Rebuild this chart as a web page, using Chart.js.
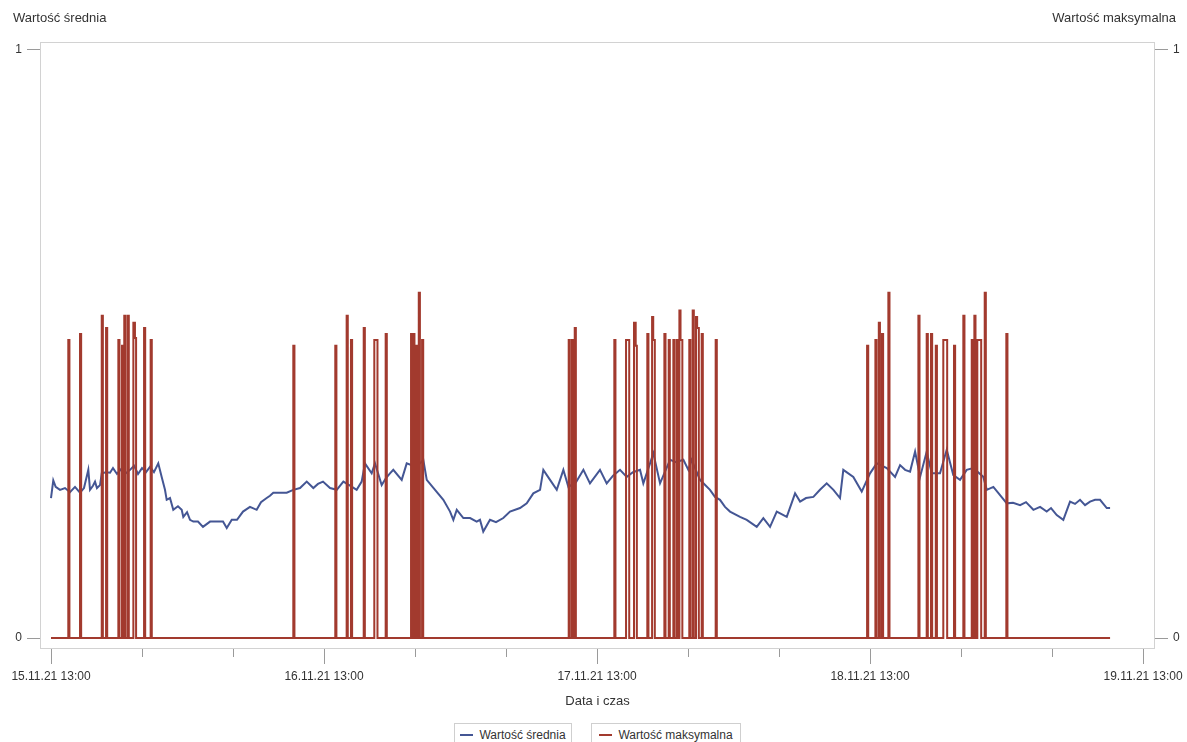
<!DOCTYPE html>
<html lang="pl">
<head>
<meta charset="utf-8">
<title>Wartość średnia / maksymalna</title>
<script src="https://cdn.jsdelivr.net/npm/chart.js@4.4.1/dist/chart.umd.min.js"></script>
<style>
    body { margin: 0; background: #fff; font-family: "Liberation Sans", Arial, sans-serif; color: #333; }
    #wrap { position: relative; width: 1187px; height: 742px; overflow: hidden; }
    #chart { position: absolute; left: 0; top: 0; }
    .axis-name { position: absolute; top: 10px; font-size: 13px; white-space: nowrap; }
    .leg {
        position: absolute; top: 723px; height: 24px; box-sizing: border-box;
        border: 1px solid #cfcfcf; background: #fff; font-size: 12px; line-height: 20px;
        display: flex; align-items: center; justify-content: center; white-space: nowrap;
    }
    .leg i { display: inline-block; width: 13px; height: 2px; margin-right: 6px; }
</style>
</head>
<body>
<div id="wrap">
    <canvas id="chart" width="1187" height="742"></canvas>
    <div class="axis-name" style="left:13px">Wartość średnia</div>
    <div class="axis-name" style="right:11px">Wartość maksymalna</div>
    <div class="leg" style="left:454px;width:118px"><i style="background:#445694"></i>Wartość średnia</div>
    <div class="leg" style="left:591px;width:150px"><i style="background:#A23A2E"></i>Wartość maksymalna</div>
</div>
<script>
// hours counted from 15.11.21 13:00
const dayTickHours = [0, 24, 48, 72, 96];
const dayTickLabels = ['15.11.21 13:00', '16.11.21 13:00', '17.11.21 13:00', '18.11.21 13:00', '19.11.21 13:00'];
const minorTickHours = [8, 16, 32, 40, 56, 64, 80, 88];
const yTickValues = [0, 1];

// Wartość średnia (left axis)
const avgHours = [
    0, 0.2, 0.41, 0.79, 1.23, 1.67, 2.11, 2.55, 2.9, 3.28, 3.43, 3.69, 3.87, 4.04, 4.31, 4.46,
    4.84, 5.19, 5.45, 5.8, 6.15, 6.51, 6.95, 7.3, 7.65, 8.0, 8.35, 8.7, 9.05, 9.43, 9.73, 10.02,
    10.17, 10.46, 10.75, 11.16, 11.49, 11.63, 11.96, 12.22, 12.51, 12.92, 13.36, 13.98, 14.59, 15.12, 15.45, 15.89,
    16.35, 16.88, 17.49, 18.08, 18.46, 18.96, 19.25, 19.54, 20.13, 20.72, 21.3, 21.89, 22.48, 23.06, 23.47, 23.91,
    24.53, 25.12, 25.7, 26.29, 26.87, 27.31, 27.6, 28.19, 28.48, 29.07, 29.45, 29.8, 30.09, 30.83, 31.27, 31.82,
    32.44, 32.73, 33.03, 33.76, 34.49, 35.08, 35.37, 35.67, 36.25, 36.84, 37.42, 37.71, 38.0, 38.59, 39.12, 39.76,
    40.35, 41.23, 41.82, 42.4, 42.99, 43.28, 43.87, 44.46, 45.04, 45.48, 46.15, 46.8, 47.38, 48.26, 48.85, 49.41,
    50.02, 50.61, 51.16, 51.78, 52.07, 52.66, 52.95, 53.54, 54.42, 54.95, 55.59, 56.03, 56.32, 57.05, 57.93, 58.37,
    58.81, 59.25, 59.69, 60.57, 61.16, 62.04, 62.62, 63.21, 63.8, 64.68, 65.41, 65.85, 66.37, 67.02, 67.6, 68.19,
    68.78, 69.36, 69.65, 70.53, 71.27, 72.0, 72.59, 73.47, 74.2, 74.64, 75.08, 75.52, 75.96, 76.4, 76.98, 77.42,
    78.15, 78.74, 79.32, 79.91, 80.5, 81.08, 81.96, 82.26, 82.84, 83.43, 84.02, 84.57, 85.19, 85.71, 86.36, 86.95,
    87.53, 87.91, 88.41, 88.99, 89.58, 90.02, 90.46, 90.9, 91.34, 91.78, 92.22, 92.81, 93.1
];
const avgValues = [
    0.238, 0.268, 0.257, 0.252, 0.255, 0.248, 0.257, 0.247, 0.255, 0.286, 0.252, 0.259, 0.266, 0.255, 0.260, 0.280,
    0.282, 0.281, 0.289, 0.279, 0.287, 0.279, 0.286, 0.293, 0.279, 0.289, 0.282, 0.291, 0.282, 0.297, 0.274, 0.252,
    0.235, 0.238, 0.218, 0.224, 0.218, 0.206, 0.214, 0.201, 0.198, 0.198, 0.189, 0.198, 0.198, 0.198, 0.187, 0.201,
    0.201, 0.215, 0.223, 0.218, 0.231, 0.238, 0.242, 0.247, 0.247, 0.247, 0.252, 0.255, 0.266, 0.255, 0.262, 0.266,
    0.255, 0.252, 0.266, 0.259, 0.252, 0.266, 0.297, 0.280, 0.297, 0.260, 0.272, 0.280, 0.286, 0.269, 0.297, 0.293,
    0.297, 0.303, 0.269, 0.252, 0.235, 0.215, 0.201, 0.218, 0.204, 0.204, 0.198, 0.201, 0.181, 0.201, 0.197, 0.204,
    0.215, 0.221, 0.229, 0.246, 0.252, 0.286, 0.269, 0.252, 0.286, 0.257, 0.265, 0.286, 0.263, 0.286, 0.263, 0.276,
    0.286, 0.274, 0.282, 0.286, 0.263, 0.297, 0.314, 0.263, 0.303, 0.299, 0.303, 0.286, 0.303, 0.269, 0.252, 0.240,
    0.235, 0.223, 0.215, 0.206, 0.201, 0.189, 0.204, 0.189, 0.215, 0.206, 0.246, 0.232, 0.238, 0.240, 0.252, 0.263,
    0.252, 0.238, 0.286, 0.274, 0.249, 0.280, 0.297, 0.289, 0.274, 0.294, 0.286, 0.283, 0.317, 0.274, 0.317, 0.280,
    0.280, 0.320, 0.277, 0.269, 0.286, 0.289, 0.274, 0.252, 0.257, 0.243, 0.229, 0.230, 0.226, 0.231, 0.218, 0.223,
    0.215, 0.221, 0.209, 0.201, 0.232, 0.228, 0.235, 0.226, 0.232, 0.235, 0.235, 0.221, 0.221
];

// Wartość maksymalna (right axis), value holds until the next sample
const maxHours = [
    0,
    1.52, 1.62, 2.55, 2.65, 4.46, 4.56, 4.84, 4.94, 5.92, 6.02, 6.24, 6.34, 6.44, 6.54, 6.74, 6.84,
    7.24, 7.38, 7.48, 8.18, 8.28, 8.76, 8.86, 21.3, 21.4,
    24.99, 25.09, 25.99, 26.09, 26.37, 26.47, 27.49, 27.59, 28.42, 28.7, 29.42, 29.52,
    31.65, 31.75, 31.85, 31.95, 32.09, 32.19, 32.33, 32.43, 32.62, 32.72,
    45.51, 45.61, 45.8, 45.9, 46.04, 46.14, 49.52, 49.62, 50.55, 50.83,
    51.25, 51.4, 51.5, 52.42, 52.52, 52.84, 52.94, 53.08,
    53.92, 54.02, 54.3, 54.4, 54.71, 54.81, 55.01, 55.11,
    55.24, 55.34, 55.5, 56.11, 56.21, 56.41, 56.51,
    56.7, 56.8, 56.95, 57.2, 57.3, 58.43, 58.53,
    71.74, 71.84, 72.47, 72.57, 72.77, 72.87, 73.05, 73.15, 73.61, 73.71,
    76.25, 76.35, 76.98, 77.08, 77.36, 77.46, 77.78, 77.88, 78.44, 78.78,
    79.38, 79.48, 80.2, 80.3, 80.94, 81.04, 81.17, 81.27, 81.43, 81.77,
    82.08, 82.18, 83.98, 84.08,
    93.1
];
const maxValues = [
    0,
    0.507, 0, 0.517, 0, 0.548, 0, 0.527, 0, 0.507, 0, 0.497, 0, 0.548, 0, 0.548, 0,
    0.536, 0.510, 0, 0.527, 0, 0.507, 0, 0.497, 0,
    0.497, 0, 0.548, 0, 0.507, 0, 0.527, 0, 0.507, 0, 0.517, 0,
    0.517, 0, 0.517, 0, 0.497, 0, 0.587, 0, 0.507, 0,
    0.507, 0, 0.507, 0, 0.527, 0, 0.507, 0, 0.507, 0,
    0.536, 0.497, 0, 0.517, 0, 0.546, 0.507, 0,
    0.517, 0, 0.507, 0, 0.507, 0, 0.507, 0,
    0.557, 0.507, 0, 0.507, 0, 0.557, 0,
    0.546, 0.527, 0, 0.517, 0, 0.507, 0,
    0.497, 0, 0.507, 0, 0.536, 0, 0.517, 0, 0.587, 0,
    0.548, 0, 0.517, 0, 0.517, 0, 0.497, 0, 0.507, 0,
    0.497, 0, 0.548, 0, 0.507, 0, 0.548, 0, 0.507, 0,
    0.587, 0, 0.517, 0,
    0
];

const TEXT = '#333';
const TICK = '#9a9a9a';
const FRAME = '#d2d2d2';

// light frame round the plot and the x tick marks (long at the day labels)
const framePlugin = {
    id: 'frame',
    beforeDatasetsDraw(chart) {
        const { ctx, chartArea: a, scales: { x } } = chart;
        ctx.save();
        ctx.lineWidth = 1;
        ctx.strokeStyle = FRAME;
        ctx.strokeRect(a.left + 0.5, a.top + 0.5, a.right - a.left - 1, a.bottom - a.top - 1);
        ctx.strokeStyle = TICK;
        x.ticks.forEach(t => {
            const px = Math.round(x.getPixelForValue(t.value)) + 0.5;
            const len = dayTickHours.includes(t.value) ? 15 : 8;
            ctx.beginPath();
            ctx.moveTo(px, a.bottom);
            ctx.lineTo(px, a.bottom + len);
            ctx.stroke();
        });
        ctx.restore();
    }
};

function yAxis(position, width) {
    return {
        type: 'linear',
        position: position,
        min: -0.0187,
        max: 1.0136,
        afterBuildTicks: s => { s.ticks = yTickValues.map(v => ({ value: v })); },
        afterFit: s => { s.width = width; },
        grid: { drawOnChartArea: false, tickLength: 13, color: TICK, tickColor: TICK },
        border: { display: false },
        ticks: { padding: 5, color: TEXT, font: { size: 12 } }
    };
}

Chart.defaults.font.family = '"Liberation Sans", Arial, sans-serif';

new Chart(document.getElementById('chart').getContext('2d'), {
    type: 'line',
    data: {
        datasets: [
            {
                label: 'Wartość średnia',
                data: avgHours.map((h, i) => ({ x: h, y: avgValues[i] })),
                borderColor: '#445694',
                backgroundColor: '#445694',
                borderWidth: 2,
                pointRadius: 0,
                tension: 0,
                yAxisID: 'y',
                order: 1
            },
            {
                label: 'Wartość maksymalna',
                data: maxHours.map((h, i) => ({ x: h, y: maxValues[i] })),
                borderColor: '#A23A2E',
                backgroundColor: '#A23A2E',
                borderWidth: 2,
                pointRadius: 0,
                stepped: true,
                yAxisID: 'y1',
                order: 0
            }
        ]
    },
    options: {
        responsive: false,
        animation: false,
        layout: { padding: { top: 42, left: 0, right: 0, bottom: 0 } },
        scales: {
            x: {
                type: 'linear',
                min: -0.967,
                max: 97.05,
                afterBuildTicks: s => {
                    s.ticks = [...dayTickHours, ...minorTickHours].sort((a, b) => a - b).map(v => ({ value: v }));
                },
                afterFit: s => {
                    s.height = 93;
                    // the y axes already leave room for the end labels
                    s.paddingLeft = 0;
                    s.paddingRight = 0;
                },
                grid: { display: false, drawTicks: false },
                border: { display: false },
                ticks: {
                    autoSkip: false,
                    maxRotation: 0,
                    padding: 20,
                    color: TEXT,
                    font: { size: 12 },
                    callback: v => {
                        const i = dayTickHours.indexOf(v);
                        return i >= 0 ? dayTickLabels[i] : '';
                    }
                },
                title: {
                    display: true,
                    text: 'Data i czas',
                    color: TEXT,
                    font: { size: 13 },
                    padding: { top: 0, bottom: 33 }
                }
            },
            y: yAxis('left', 40),
            y1: yAxis('right', 32)
        },
        plugins: {
            legend: { display: false },
            tooltip: { enabled: false }
        }
    },
    plugins: [framePlugin]
});
</script>
</body>
</html>
